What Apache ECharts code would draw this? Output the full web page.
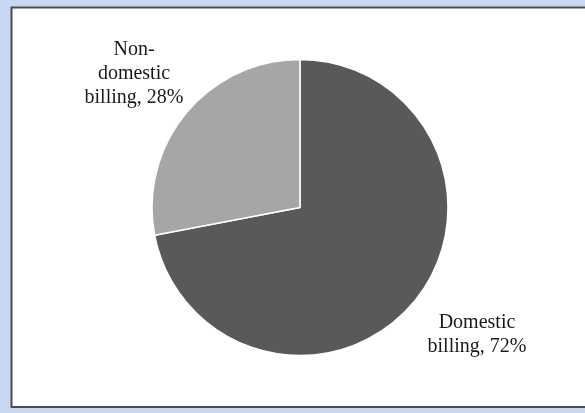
<!DOCTYPE html>
<html>
<head>
<meta charset="utf-8">
<style>html,body{margin:0;padding:0;background:#c6d9f1;}#c{width:585px;height:413px;}</style>
<script src="https://cdn.jsdelivr.net/npm/echarts@6/dist/echarts.min.js"></script>
</head>
<body>
<div id="c"></div>
<script>
const categories = ['Domestic billing', 'Non-domestic billing'];
const shares = [72, 28];
const labelTexts = ['Domestic\nbilling, 72%', 'Non-\ndomestic\nbilling, 28%'];
const colors = ['#595959', '#a6a6a6'];

const chart = echarts.init(document.getElementById('c'));
const labelPos = [[477, 335], [134, 74]];
chart.setOption({
  animation: false,
  backgroundColor: '#c6d9f1',
  graphic: [{
    type: 'rect', z: -10,
    shape: { x: 11.5, y: 7.5, width: 620, height: 399.5 },
    style: { fill: '#ffffff', stroke: '#4d4d4d', lineWidth: 2 }
  }],
  series: [{
    type: 'pie',
    center: [300, 207.5],
    radius: 148,
    startAngle: 90,
    clockwise: true,
    data: categories.map((c, i) => ({
      name: c, value: shares[i],
      itemStyle: { color: colors[i] },
      label: { formatter: labelTexts[i] }
    })),
    itemStyle: { borderColor: '#ffffff', borderWidth: 1.5 },
    label: {
      show: true,
      position: 'outside',
      fontFamily: 'Liberation Serif',
      fontSize: 20,
      lineHeight: 24,
      color: '#1a1a1a',
      align: 'center'
    },
    labelLine: { show: false },
    labelLayout: function (p) {
      const pos = labelPos[p.dataIndex];
      return { x: pos[0], y: pos[1], align: 'center', verticalAlign: 'middle' };
    },
    emphasis: { disabled: true }
  }]
});
</script>
</body>
</html>
